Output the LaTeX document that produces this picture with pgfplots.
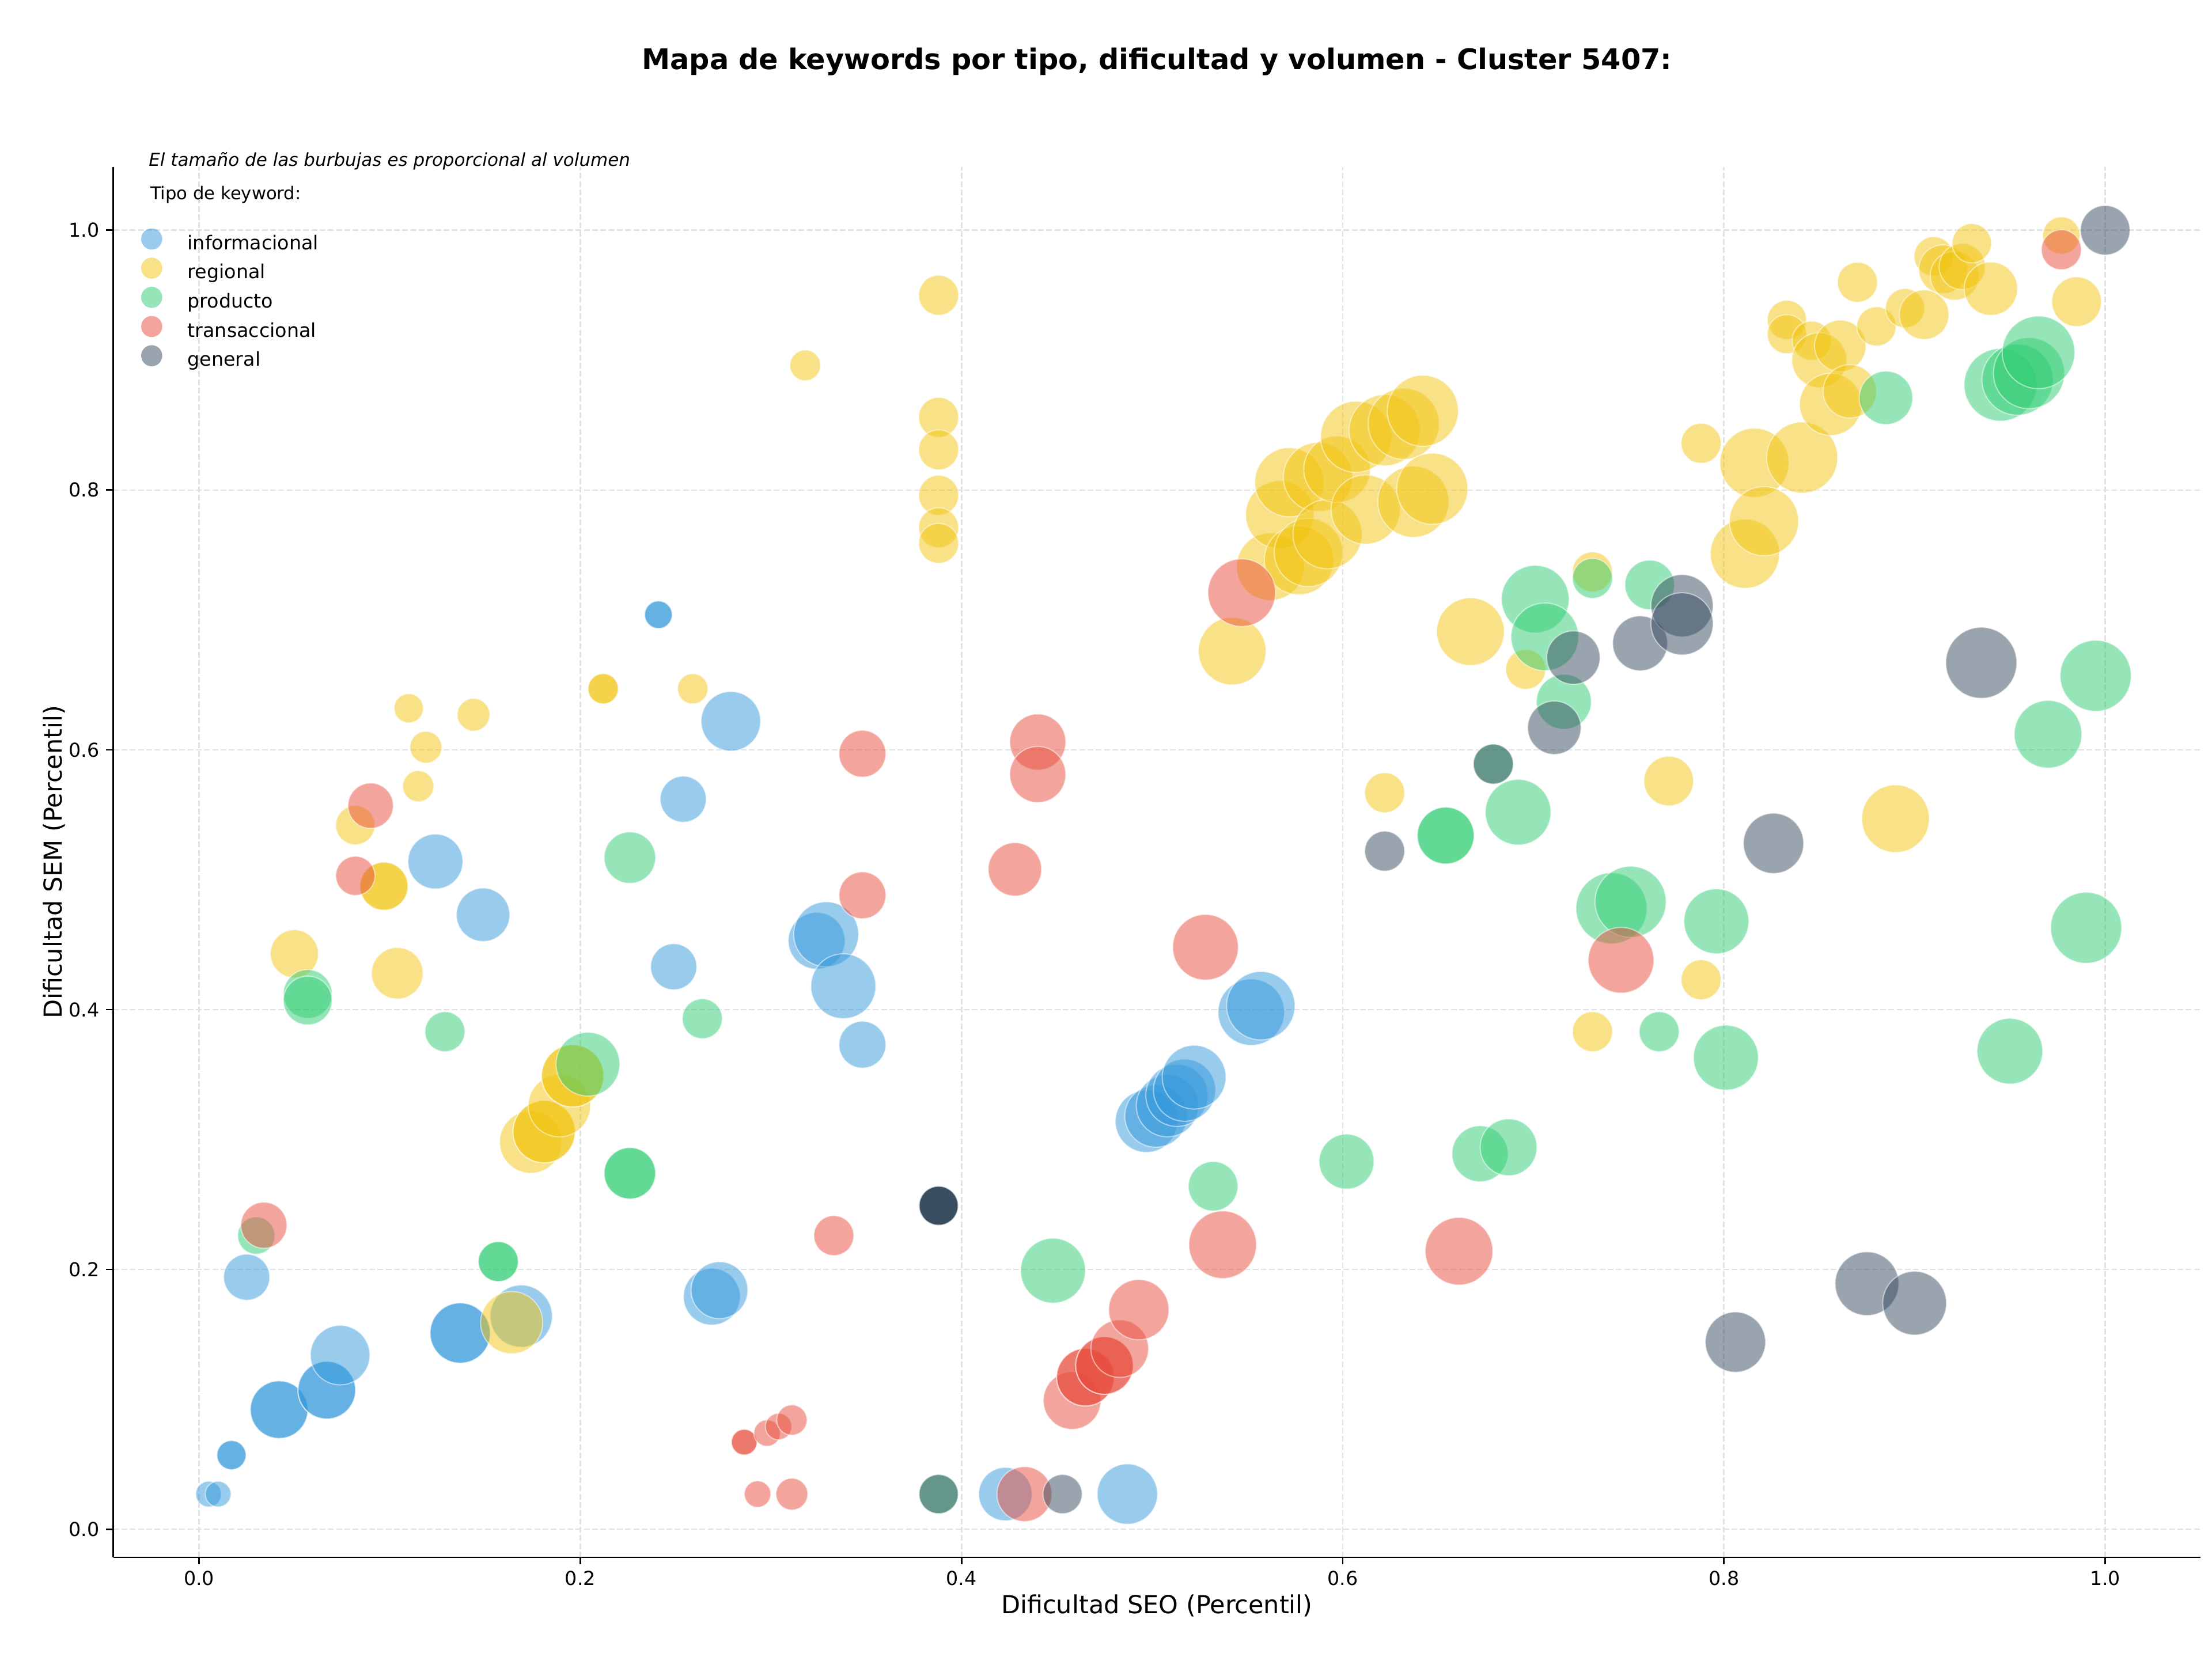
\documentclass[border=0pt]{standalone}
\usepackage{fontspec}
\setmainfont{DejaVu Sans}
\usepackage{pgfplots}
\usepackage{pgfplotstable}
\pgfplotsset{compat=1.18}
\definecolor{infoc}{HTML}{3498DB}
\definecolor{regc}{HTML}{F1C40F}
\definecolor{prodc}{HTML}{2ECC71}
\definecolor{tranc}{HTML}{E74C3C}
\definecolor{genc}{HTML}{34495E}
\definecolor{gridc}{RGB}{226,226,226}

\pgfplotstableread{
x y r
0.005 0.027 6.7
0.010 0.027 6.7
0.017 0.057 7.6
0.017 0.057 7.6
0.025 0.194 12.0
0.042 0.092 15.0
0.042 0.092 15.0
0.067 0.107 15.0
0.067 0.107 15.0
0.074 0.134 15.5
0.124 0.514 14.3
0.137 0.151 15.7
0.137 0.151 15.7
0.149 0.473 13.9
0.169 0.164 16.2
0.241 0.704 7.2
0.241 0.704 7.2
0.249 0.433 12.0
0.254 0.562 12.0
0.269 0.179 14.8
0.273 0.184 14.8
0.279 0.622 15.5
0.324 0.453 14.8
0.329 0.458 16.9
0.338 0.418 16.9
0.348 0.373 12.2
0.423 0.027 13.9
0.487 0.027 15.7
0.497 0.314 16.2
0.502 0.318 16.2
0.508 0.326 16.2
0.513 0.334 16.2
0.517 0.338 16.2
0.522 0.348 16.6
0.552 0.398 17.3
0.557 0.403 17.8
}\tinfo

\pgfplotstableread{
x y r
0.050 0.443 12.5
0.082 0.542 10.2
0.097 0.495 12.5
0.097 0.495 12.5
0.104 0.428 13.4
0.110 0.632 7.6
0.115 0.572 8.1
0.119 0.602 8.3
0.144 0.627 8.5
0.164 0.159 16.2
0.174 0.298 16.2
0.181 0.306 16.2
0.181 0.306 16.2
0.189 0.326 16.2
0.196 0.349 16.2
0.196 0.349 16.2
0.212 0.647 7.9
0.212 0.647 7.9
0.259 0.647 7.9
0.318 0.896 8.0
0.388 0.950 10.4
0.388 0.856 10.4
0.388 0.831 10.4
0.388 0.796 10.4
0.388 0.771 10.4
0.388 0.759 10.4
0.542 0.676 17.6
0.562 0.741 17.6
0.567 0.781 17.8
0.572 0.806 18.0
0.577 0.746 18.0
0.582 0.752 17.8
0.587 0.810 18.0
0.592 0.766 18.0
0.597 0.816 17.3
0.607 0.841 18.5
0.612 0.785 18.0
0.622 0.846 18.5
0.632 0.851 18.5
0.637 0.791 18.5
0.642 0.861 18.5
0.647 0.801 18.5
0.622 0.567 10.4
0.667 0.691 17.6
0.696 0.662 10.4
0.731 0.737 10.4
0.731 0.383 10.4
0.771 0.576 12.9
0.788 0.836 10.4
0.788 0.423 10.4
0.811 0.751 18.0
0.816 0.821 18.0
0.821 0.776 18.0
0.833 0.931 10.2
0.833 0.920 10.2
0.841 0.825 18.5
0.846 0.915 10.2
0.850 0.900 14.3
0.856 0.866 16.2
0.861 0.911 13.4
0.866 0.876 13.9
0.870 0.960 10.4
0.880 0.926 10.2
0.890 0.547 17.6
0.895 0.940 10.2
0.905 0.935 12.9
0.910 0.980 10.2
0.915 0.970 12.7
0.921 0.965 12.7
0.925 0.972 12.0
0.930 0.990 10.2
0.940 0.955 13.9
0.977 0.996 9.7
0.985 0.945 12.9
}\treg

\pgfplotstableread{
x y r
0.030 0.226 9.7
0.057 0.412 12.7
0.057 0.407 12.7
0.129 0.383 10.4
0.157 0.206 10.4
0.157 0.206 10.4
0.204 0.358 16.6
0.226 0.517 13.4
0.226 0.274 13.4
0.226 0.274 13.4
0.264 0.393 10.4
0.388 0.027 10.2
0.448 0.199 16.9
0.532 0.264 12.9
0.602 0.283 14.3
0.654 0.534 14.8
0.654 0.534 14.8
0.672 0.289 14.6
0.679 0.589 10.4
0.687 0.294 14.8
0.692 0.552 17.1
0.701 0.716 17.6
0.706 0.687 17.6
0.716 0.637 14.3
0.731 0.732 10.4
0.741 0.478 18.5
0.751 0.483 18.5
0.761 0.727 12.9
0.766 0.383 10.4
0.796 0.468 16.9
0.801 0.363 16.9
0.885 0.871 13.9
0.945 0.881 18.9
0.954 0.885 18.5
0.960 0.890 18.5
0.965 0.906 18.9
0.950 0.368 17.1
0.970 0.612 17.6
0.990 0.463 18.5
0.995 0.657 18.5
}\tprod

\pgfplotstableread{
x y r
0.034 0.234 12.0
0.082 0.503 10.2
0.090 0.557 11.8
0.286 0.067 6.7
0.286 0.067 6.7
0.293 0.027 6.9
0.298 0.074 6.9
0.304 0.079 6.9
0.311 0.084 7.9
0.311 0.027 8.3
0.333 0.226 10.4
0.348 0.488 12.2
0.348 0.597 12.2
0.428 0.508 13.9
0.433 0.027 14.3
0.440 0.606 14.6
0.440 0.581 14.6
0.458 0.099 15.0
0.465 0.117 15.0
0.465 0.117 15.0
0.475 0.126 15.0
0.475 0.126 15.0
0.483 0.139 15.0
0.493 0.169 15.7
0.528 0.448 17.1
0.537 0.219 17.6
0.547 0.721 17.6
0.661 0.214 17.6
0.746 0.438 17.1
0.977 0.985 10.4
}\ttran

\pgfplotstableread{
x y r
0.388 0.249 10.2
0.388 0.249 10.2
0.388 0.249 10.2
0.388 0.249 10.2
0.388 0.249 10.2
0.388 0.027 10.2
0.453 0.027 10.2
0.622 0.522 10.4
0.679 0.589 10.4
0.711 0.617 13.9
0.721 0.671 13.9
0.756 0.682 14.3
0.778 0.711 16.2
0.778 0.697 16.2
0.806 0.144 15.7
0.826 0.528 15.7
0.875 0.189 16.6
0.900 0.174 16.6
0.935 0.667 18.5
1.000 1.000 12.9
}\tgen

\pgfplotsset{
  bub/.style={only marks, mark=*, scatter, forget plot,
    point meta=\thisrow{r},
    scatter/use mapped color={draw=white, fill=#1},
    visualization depends on={\thisrow{r} \as \bubr},
    scatter/@pre marker code/.append style={/tikz/mark size=\bubr},
    fill opacity=0.5, draw opacity=0.5,
    mark options={line width=0.6pt}},
}

\begin{document}
\begin{tikzpicture}
\begin{axis}[
  scale only axis,
  width=1087pt, height=724.2pt,
  xmin=-0.045, xmax=1.05, ymin=-0.0217, ymax=1.0487,
  axis x line*=bottom, axis y line*=left,
  x axis line style={-, line width=0.85pt},
  y axis line style={-, line width=0.85pt},
  tick align=outside,
  major tick length=3.7pt,
  tick style={line width=0.85pt, black},
  xtick={0,0.2,...,1.0}, ytick={0,0.2,...,1.0},
  scaled ticks=false,
  /pgf/number format/assume math mode=true,
  xticklabel style={/pgf/number format/fixed, /pgf/number format/fixed zerofill, /pgf/number format/precision=1},
  yticklabel style={/pgf/number format/fixed, /pgf/number format/fixed zerofill, /pgf/number format/precision=1},
  tick label style={font=\fontsize{10}{12}\selectfont},
  grid=major,
  grid style={gridc, line width=0.8pt, dash pattern=on 3pt off 1.3pt},
  title={Mapa de keywords por tipo, dificultad y volumen - Cluster 5407:},
  title style={at={(0.5,1)}, anchor=center, yshift=48.8pt, font=\bfseries\fontsize{14.8}{18}\selectfont},
  xlabel={Dificultad SEO (Percentil)},
  xlabel style={at={(axis description cs:0.5,0)}, anchor=center, yshift=-25.3pt, font=\fontsize{12.9}{15}\selectfont},
  ylabel={Dificultad SEM (Percentil)},
  ylabel style={at={(axis description cs:0,0.5)}, anchor=center, yshift=30.9pt, font=\fontsize{12.9}{15}\selectfont},
  legend image code/.code={\path[draw=none, fill=none] (0pt,-4.9pt) rectangle (18.7pt,4.9pt); \fill[#1, draw=none, overlay] (0pt,2.9pt) circle (5.5pt);},
  legend cell align=left,
  legend style={at={(rel axis cs:0,1)}, anchor=north west, xshift=20pt, yshift=-35.5pt,
    draw=none, fill=none, inner sep=0pt, outer sep=0pt, row sep=5.4pt,
    font=\fontsize{10}{12}\selectfont,
    nodes={inner sep=0pt, text height=7.5pt, text depth=2.3pt}},
]
\addplot[bub=infoc] table[x=x,y=y] {\tinfo};
\addplot[bub=regc] table[x=x,y=y] {\treg};
\addplot[bub=prodc] table[x=x,y=y] {\tprod};
\addplot[bub=tranc] table[x=x,y=y] {\ttran};
\addplot[bub=genc] table[x=x,y=y] {\tgen};
\addlegendimage{fill=infoc, fill opacity=0.5}
\addlegendentry{informacional}
\addlegendimage{fill=regc, fill opacity=0.5}
\addlegendentry{regional}
\addlegendimage{fill=prodc, fill opacity=0.5}
\addlegendentry{producto}
\addlegendimage{fill=tranc, fill opacity=0.5}
\addlegendentry{transaccional}
\addlegendimage{fill=genc, fill opacity=0.5}
\addlegendentry{general}
\coordinate (SW) at (rel axis cs:0,0);
\coordinate (NE) at (rel axis cs:1,1);
\coordinate (NW) at (rel axis cs:0,1);
\end{axis}
\node[anchor=west, inner sep=0pt, font=\itshape\fontsize{9.3}{11}\selectfont] at ([xshift=18.3pt, yshift=3.2pt]NW) {El tamaño de las burbujas es proporcional al volumen};
\node[anchor=west, inner sep=0pt, font=\fontsize{9.2}{11}\selectfont] at ([xshift=19.1pt, yshift=-14.5pt]NW) {Tipo de keyword:};
\pgfresetboundingbox
\path[use as bounding box] ([xshift=-59pt, yshift=-53.7pt]SW) rectangle ([xshift=6pt, yshift=87pt]NE);
\end{tikzpicture}
\end{document}
